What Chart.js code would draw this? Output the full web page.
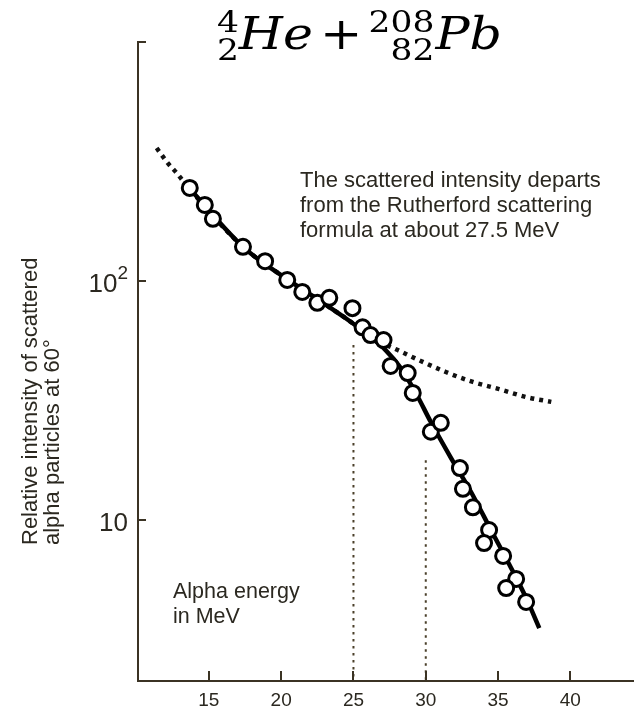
<!DOCTYPE html>
<html>
<head>
<meta charset="utf-8">
<script src="https://cdn.jsdelivr.net/npm/chart.js@4.4.1/dist/chart.umd.min.js"></script>
<style>
  html, body { margin: 0; padding: 0; background: #ffffff; }
  #wrap { width: 634px; height: 711px; position: relative; }
</style>
</head>
<body>
<div id="wrap"><canvas id="chart" width="634" height="711"></canvas></div>
<script>
// Measured scattering of alpha particles on lead (relative intensity vs. alpha energy)
const measuredEnergy = [13.68, 14.72, 15.28, 17.36, 18.89, 20.42, 21.46, 22.50, 23.33, 24.93,
                        25.63, 26.18, 27.08, 27.57, 28.75, 29.10, 30.35, 31.04, 32.36, 32.57,
                        33.26, 34.38, 34.03, 35.35, 36.25, 35.56, 36.94];
const measuredIntensity = [245, 208, 182, 139, 121, 101, 90, 81, 85, 77,
                           64, 59.4, 56.6, 44.1, 41.2, 34.0, 23.4, 25.5, 16.5, 13.5,
                           11.3, 9.08, 8.01, 7.07, 5.67, 5.19, 4.54];

// Smooth curve through the measurements
const fitEnergy = [13.33, 17.36, 20.49, 22.71, 24.44, 25.83, 27.22, 28.26, 29.31, 30.35,
                   31.74, 33.13, 34.51, 35.90, 36.94, 37.85];
const fitIntensity = [257, 139, 101, 82.4, 70, 60.6, 51.4, 43.3, 34.0, 25.7,
                      18.2, 13.1, 9.08, 6.30, 4.72, 3.53];

// Rutherford scattering prediction (dotted)
const rutherfordEnergy = [11.39, 12.15, 12.78, 13.33, 17.36, 20.49, 22.71, 24.44, 25.83, 27.0,
                          28.06, 29.51, 31.39, 33.26, 35.07, 36.94, 38.68];
const rutherfordIntensity = [360, 312, 283, 257, 139, 101, 82.4, 70, 61, 55,
                             51.4, 46.7, 41.6, 37.8, 35.3, 32.7, 31.2];

// Vertical guide lines
const guideEnergy = [25, 30];
const guideTop = [54, 17.8];

// Axis ticks
const xTickValues = [15, 20, 25, 30, 35, 40];
const yTickValues = [10, 100];
const yTickBase = ['10', '10'];
const yTickExponent = ['', '2'];
const yTickMarks = [10, 100, 1000];

const Y_MIN = 2.12;
const AXIS = '#3b3324';
const INK = '#2b2820';
const SANS = '"Liberation Sans", Arial, Helvetica, sans-serif';

function pairs(xs, ys) { return xs.map((x, i) => ({ x: x, y: ys[i] })); }

const guideSets = guideEnergy.map((e, i) => ({
  type: 'line',
  data: [{ x: e, y: guideTop[i] }, { x: e, y: Y_MIN }],
  borderColor: '#4a3f2a',
  borderWidth: 2,
  borderDash: [2.5, 4.5],
  pointRadius: 0,
  fill: false,
  order: 4
}));

const decor = {
  id: 'decor',
  afterDraw(chart) {
    const c = chart.ctx;
    const xs = chart.scales.x, ys = chart.scales.y;
    const area = chart.chartArea;
    c.save();
    // tick marks pointing into the plot
    c.strokeStyle = AXIS;
    c.lineWidth = 2;
    xTickValues.forEach(v => {
      const px = Math.round(xs.getPixelForValue(v));
      c.beginPath(); c.moveTo(px, area.bottom); c.lineTo(px, area.bottom - 10); c.stroke();
    });
    yTickMarks.forEach(v => {
      const py = Math.round(ys.getPixelForValue(v));
      c.beginPath(); c.moveTo(area.left, py); c.lineTo(area.left + 8, py); c.stroke();
    });
    // y tick labels with exponent
    c.fillStyle = INK;
    c.textBaseline = 'middle';
    yTickValues.forEach((v, i) => {
      const py = ys.getPixelForValue(v) + 4;
      c.font = '19px ' + SANS;
      const expW = yTickExponent[i] ? c.measureText(yTickExponent[i]).width : 0;
      const right = area.left - 10;
      c.textAlign = 'right';
      if (yTickExponent[i]) {
        c.fillText(yTickExponent[i], right, py - 11);
      }
      c.font = '26px ' + SANS;
      c.fillText(yTickBase[i], right - expW, py);
    });
    // y axis title
    c.save();
    c.translate(0, 545);
    c.rotate(-Math.PI / 2);
    c.textAlign = 'left';
    c.textBaseline = 'alphabetic';
    c.font = '22px ' + SANS;
    c.fillStyle = INK;
    c.fillText('Relative intensity of scattered', 0, 37);
    c.fillText('alpha particles at 60\u00B0', 0, 59);
    c.restore();
    // notes
    c.textAlign = 'left';
    c.textBaseline = 'alphabetic';
    c.font = '22px ' + SANS;
    c.fillText('The scattered intensity departs', 300, 187);
    c.fillText('from the Rutherford scattering', 300, 212);
    c.fillText('formula at about 27.5 MeV', 300, 237);
    c.font = '21.5px ' + SANS;
    c.fillText('Alpha energy', 173, 598);
    c.fillText('in MeV', 173, 623);
    // reaction title
    c.save();
    c.translate(217, 0);
    c.scale(1.15, 1);
    c.fillStyle = '#000';
    const digits = '30px "DejaVu Serif", serif';
    const symbol = 'italic 44px "DejaVu Serif", serif';
    c.font = digits;
    c.textAlign = 'left';
    c.fillText('4', 0, 32);
    c.fillText('2', 0, 60);
    c.font = symbol;
    c.fillText('He', 19, 49);
    c.textAlign = 'center';
    c.font = '44px "DejaVu Serif", serif';
    c.fillText('+', 108, 49);
    c.font = digits;
    c.textAlign = 'right';
    c.fillText('208', 189, 32);
    c.fillText('82', 189, 60);
    c.textAlign = 'left';
    c.font = symbol;
    c.fillText('Pb', 190, 49);
    c.restore();
    c.restore();
  }
};

new Chart(document.getElementById('chart'), {
  type: 'scatter',
  data: {
    datasets: [
      {
        label: 'measured',
        data: pairs(measuredEnergy, measuredIntensity),
        showLine: false,
        pointRadius: 7.5,
        pointBorderWidth: 3,
        pointBackgroundColor: '#ffffff',
        pointBorderColor: '#000000',
        order: 0
      },
      {
        type: 'line',
        label: 'fit',
        data: pairs(fitEnergy, fitIntensity),
        borderColor: '#000000',
        borderWidth: 4.5,
        pointRadius: 0,
        tension: 0.4,
        cubicInterpolationMode: 'monotone',
        fill: false,
        order: 1
      },
      {
        type: 'line',
        label: 'Rutherford',
        data: pairs(rutherfordEnergy, rutherfordIntensity),
        borderColor: '#111111',
        borderWidth: 4.5,
        borderDash: [4, 5],
        borderCapStyle: 'butt',
        pointRadius: 0,
        tension: 0.4,
        cubicInterpolationMode: 'monotone',
        fill: false,
        order: 2
      },
      ...guideSets
    ]
  },
  options: {
    responsive: false,
    animation: false,
    layout: { autoPadding: false, padding: { top: 42, left: 0, right: 0, bottom: 0 } },
    plugins: { legend: { display: false }, tooltip: { enabled: false }, title: { display: false } },
    scales: {
      x: {
        type: 'linear',
        min: 10.1,
        max: 44.4,
        afterFit(s) { s.height = 30; s.paddingLeft = 0; s.paddingRight = 0; },
        grid: { display: false, drawTicks: false },
        border: { display: true, color: AXIS, width: 2 },
        ticks: {
          stepSize: 5,
          includeBounds: false,
          autoSkip: false,
          maxRotation: 0,
          padding: 8,
          color: INK,
          font: { family: SANS, size: 19 },
          callback: v => (xTickValues.includes(v) ? String(v) : '')
        }
      },
      y: {
        type: 'logarithmic',
        min: Y_MIN,
        max: 1000,
        afterFit(s) { s.width = 138; s.paddingTop = 0; s.paddingBottom = 0; },
        grid: { display: false, drawTicks: false },
        border: { display: true, color: AXIS, width: 2 },
        ticks: { display: false }
      }
    }
  },
  plugins: [decor]
});
</script>
</body>
</html>
